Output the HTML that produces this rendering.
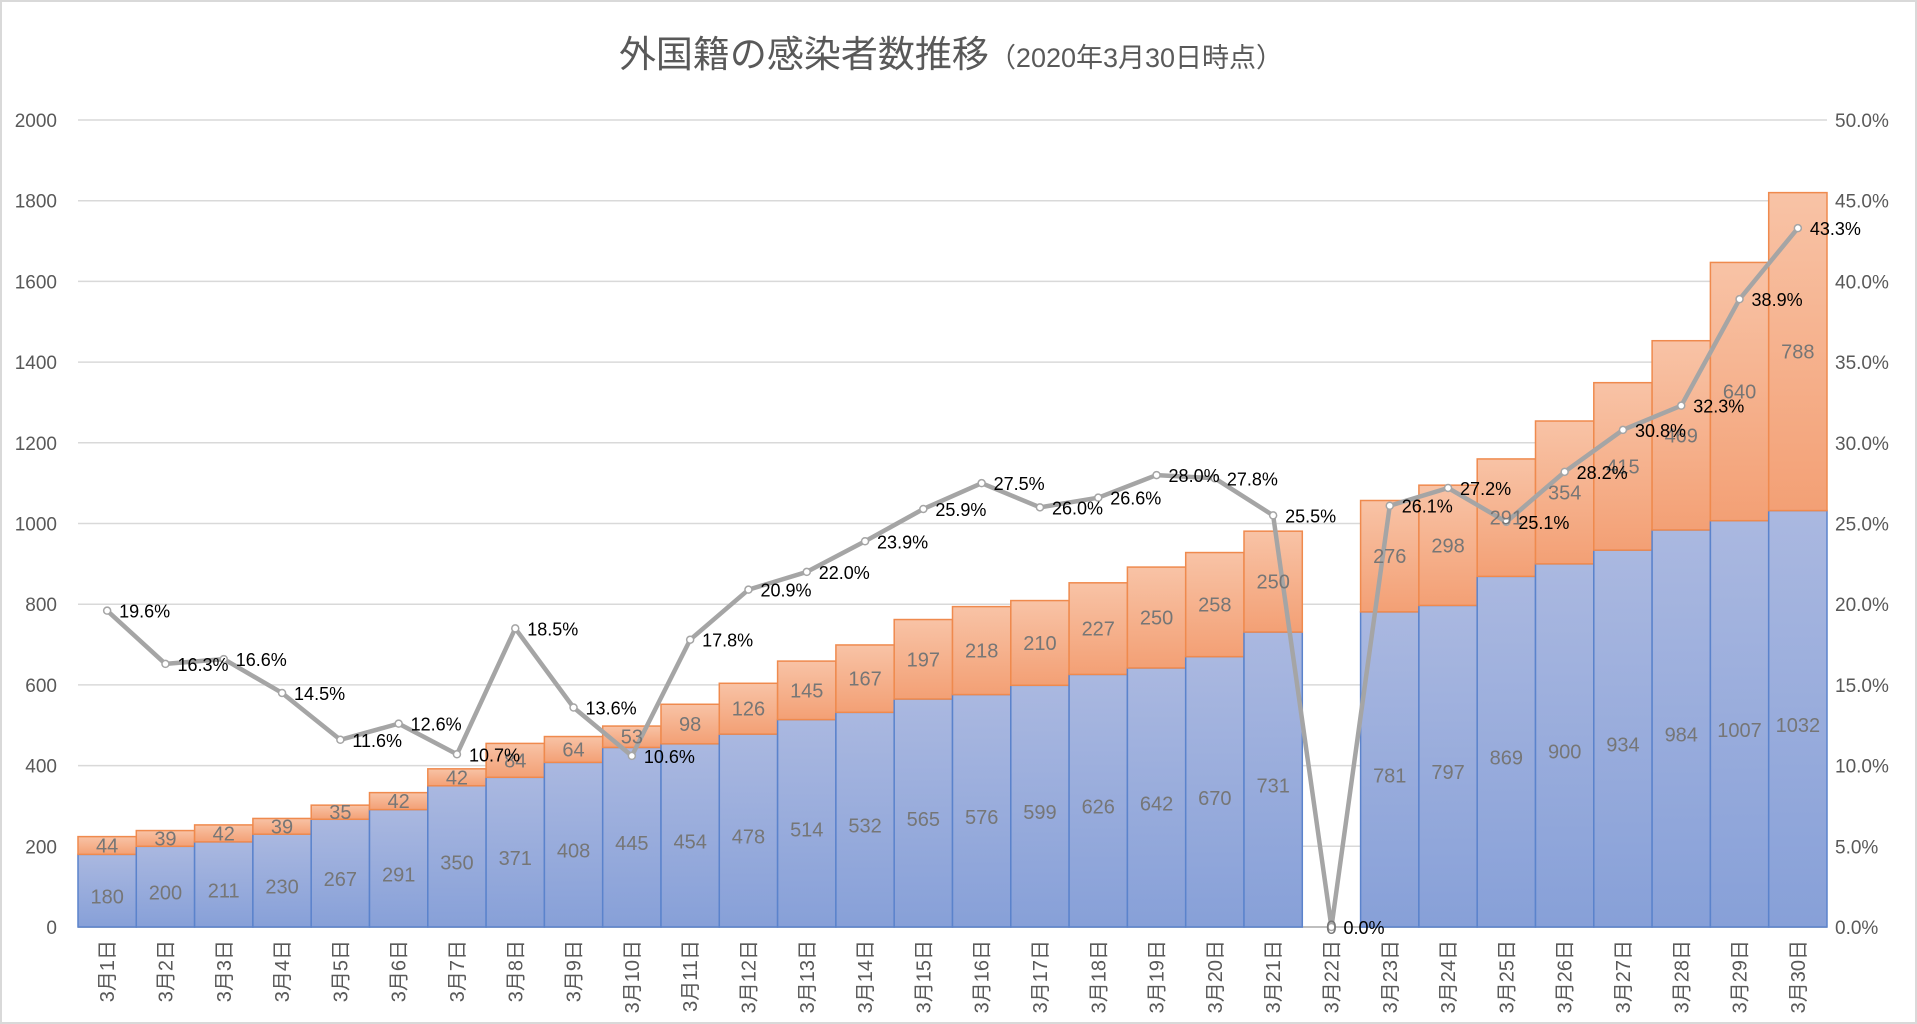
<!DOCTYPE html>
<html><head><meta charset="utf-8"><style>
html,body{margin:0;padding:0;background:#fff;}
svg{display:block;font-family:"Liberation Sans","Noto Sans CJK JP",sans-serif;}
</style></head><body>
<svg id="chart" width="1917" height="1024" viewBox="0 0 1917 1024" xmlns="http://www.w3.org/2000/svg">
<defs>
<linearGradient id="gb" x1="0" y1="0" x2="0" y2="1"><stop offset="0" stop-color="#aab8e0"/><stop offset="1" stop-color="#87a0d8"/></linearGradient>
<linearGradient id="go" x1="0" y1="0" x2="0" y2="1"><stop offset="0" stop-color="#f8c3a6"/><stop offset="1" stop-color="#f3a075"/></linearGradient>
</defs>
<rect x="1" y="1" width="1915" height="1022" fill="#fff" stroke="#d9d9d9" stroke-width="2"/>
<text x="951" y="67" text-anchor="middle" font-size="37" fill="#595959">外国籍の感染者数推移<tspan font-size="27">（2020年3月30日時点）</tspan></text>
<g id="grid"></g><g id="bars"></g><g id="line"></g><g id="labels"></g><g id="axes"></g>
</svg>
<script>
const categories=["3月1日","3月2日","3月3日","3月4日","3月5日","3月6日","3月7日","3月8日","3月9日","3月10日","3月11日","3月12日","3月13日","3月14日","3月15日","3月16日","3月17日","3月18日","3月19日","3月20日","3月21日","3月22日","3月23日","3月24日","3月25日","3月26日","3月27日","3月28日","3月29日","3月30日"];
const japaneseCounts=[180,200,211,230,267,291,350,371,408,445,454,478,514,532,565,576,599,626,642,670,731,0,781,797,869,900,934,984,1007,1032];
const foreignCounts=[44,39,42,39,35,42,42,84,64,53,98,126,145,167,197,218,210,227,250,258,250,0,276,298,291,354,415,469,640,788];
const foreignPercent=[19.6,16.3,16.6,14.5,11.6,12.6,10.7,18.5,13.6,10.6,17.8,20.9,22.0,23.9,25.9,27.5,26.0,26.6,28.0,27.8,25.5,0.0,26.1,27.2,25.1,28.2,30.8,32.3,38.9,43.3];
const leftTicks=[0,200,400,600,800,1000,1200,1400,1600,1800,2000];
const rightTicks=[0,5,10,15,20,25,30,35,40,45,50];

const NS="http://www.w3.org/2000/svg";
const X0=78,X1=1827,Y0=927,Y1=120;
const bw=(X1-X0)/categories.length;
const y=v=>Y0-(v/2000)*(Y0-Y1);
const yp=v=>Y0-(v/50)*(Y0-Y1);
const xc=i=>X0+bw*(i+0.5);
function mk(tag,attrs,parent,txt){const e=document.createElementNS(NS,tag);for(const k in attrs)e.setAttribute(k,attrs[k]);if(txt!==undefined)e.textContent=txt;document.getElementById(parent).appendChild(e);return e;}

leftTicks.forEach((t,i)=>{
  const g=mk('line',{x1:X0,x2:X1,y1:y(t),y2:y(t),stroke:i===0?'#bfbfbf':'#d9d9d9','stroke-width':i===0?2:1.5},'grid');
  
  
  const l=mk('text',{x:57,y:y(t)+7,'text-anchor':'end','font-size':19,fill:'#595959'},'axes',String(t));
  
  
});
rightTicks.forEach(t=>{
  const l=mk('text',{x:1835,y:yp(t)+7,'font-size':19,fill:'#595959'},'axes',t.toFixed(1)+'%');
  
  
});
categories.forEach((c,i)=>{
  const jb=japaneseCounts[i],fb=foreignCounts[i];
  const x=X0+bw*i;
  if(jb>0){
    const r=mk('rect',{x:x,y:y(jb),width:bw,height:Y0-y(jb),fill:'url(#gb)',stroke:'#5b83cc','stroke-width':1.5},'bars');
    
    
    const t=mk('text',{x:xc(i),y:(y(jb)+Y0)/2+13,'text-anchor':'middle','font-size':20,fill:'#767676'},'labels',String(jb));
    
    
  }
  if(fb>0){
    const r=mk('rect',{x:x,y:y(jb+fb),width:bw,height:y(jb)-y(jb+fb),fill:'url(#go)',stroke:'#ef8a4e','stroke-width':1.5},'bars');
    
    
    const t=mk('text',{x:xc(i),y:(y(jb+fb)+y(jb))/2+7,'text-anchor':'middle','font-size':20,fill:'#767676'},'labels',String(fb));
    
    
  }
  if(jb===0&&fb===0){
    const t=mk('text',{x:xc(i),y:Y0+7,'text-anchor':'middle','font-size':19,fill:'#767676'},'labels','0');
    
    
  }
  const cl=mk('text',{transform:`translate(${xc(i)+7},940) rotate(-90)`,'text-anchor':'end','font-size':20,fill:'#595959'},'axes',c);
  
  
});
const pts=foreignPercent.map((p,i)=>xc(i)+','+yp(p)).join(' ');
const pl=mk('polyline',{points:pts,fill:'none',stroke:'#a5a5a5','stroke-width':4.5,'stroke-linejoin':'round'},'line');


foreignPercent.forEach((p,i)=>{
  const c=mk('circle',{cx:xc(i),cy:yp(p),r:3.5,fill:'#fff',stroke:'#a5a5a5','stroke-width':1.5},'line');
  
  
  const t=mk('text',{x:xc(i)+12,y:yp(p)+7,'font-size':18,fill:'#000'},'labels',p.toFixed(1)+'%');
  
  
});
</script>
</body></html>
